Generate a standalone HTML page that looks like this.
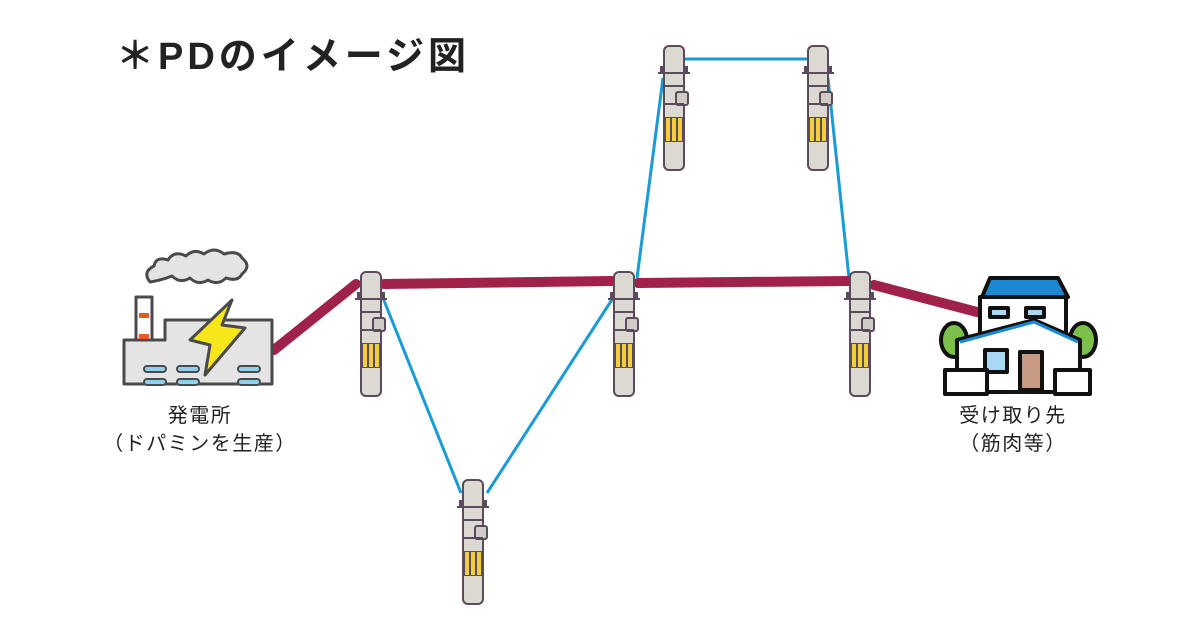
<!DOCTYPE html>
<html><head><meta charset="utf-8"><style>
html,body{margin:0;padding:0;background:#fff;}
body{width:1200px;height:630px;overflow:hidden;position:relative;font-family:"Liberation Sans","Noto Sans CJK JP",sans-serif;}
.t{position:absolute;color:#222;}
</style></head><body>
<svg width="1200" height="630" style="position:absolute;left:0;top:0">
<defs>
<g id="pole">
<rect x="0" y="0" width="20" height="124" rx="5" fill="#dcd8d2" stroke="#5a4a5c" stroke-width="2"/>
<line x1="-6" y1="27" x2="26" y2="27" stroke="#5a4a5c" stroke-width="2"/>
<rect x="-4" y="20" width="3" height="6" fill="#5a4a5c"/>
<rect x="21" y="20" width="3" height="6" fill="#5a4a5c"/>
<line x1="0" y1="40" x2="20" y2="40" stroke="#5a4a5c" stroke-width="2"/>
<rect x="12" y="46" width="12" height="13" rx="2" fill="#cfcbc5" stroke="#5a4a5c" stroke-width="2"/>
<line x1="0" y1="58" x2="20" y2="58" stroke="#5a4a5c" stroke-width="2"/>
<rect x="0" y="71" width="20" height="25" fill="#5a4a5c"/>
<rect x="2" y="72" width="4" height="23" fill="#f2cf3a"/>
<rect x="8" y="72" width="4" height="23" fill="#f2cf3a"/>
<rect x="14" y="72" width="4" height="23" fill="#f2cf3a"/>
</g>
</defs>
<g stroke="#1a9ad6" stroke-width="3" fill="none">
<line x1="383" y1="298" x2="461" y2="493"/>
<line x1="487" y1="493" x2="613" y2="298"/>
<line x1="637" y1="278" x2="663" y2="78"/>
<line x1="684" y1="59" x2="807" y2="59"/>
<line x1="828" y1="78" x2="849" y2="278"/>
</g>
<g stroke="#a0214a" stroke-width="10" stroke-linecap="round" fill="none">
<line x1="274" y1="350" x2="356" y2="284"/>
<line x1="384" y1="284" x2="612" y2="281"/>
<line x1="638" y1="283" x2="848" y2="281"/>
<line x1="874" y1="285" x2="977" y2="312"/>
</g>
<use href="#pole" x="361" y="272"/>
<use href="#pole" x="463" y="480"/>
<use href="#pole" x="614" y="272"/>
<use href="#pole" x="664" y="46"/>
<use href="#pole" x="808" y="46"/>
<use href="#pole" x="850" y="272"/>
<g stroke="#4a4a4a" stroke-width="3" stroke-linejoin="round">
<path d="M150 282 q-8 -10 4 -16 q2 -10 14 -6 q6 -10 18 -4 q8 -8 18 -2 q10 -8 20 0 q14 -4 18 4 q10 8 0 16 q-4 8 -16 4 q-8 8 -18 2 q-10 6 -18 -2 q-10 6 -18 -2 q-10 4 -22 6 z" fill="#e4e4e4"/>
<rect x="136" y="297" width="16" height="50" fill="#fff"/>
<path d="M124 350 V340 H165 V320 H272 V384 H124 Z" fill="#e4e4e4"/>
<path d="M232 300 L190 340 L210 345 L205 375 L245 328 L222 325 Z" fill="#f7e61a"/>
</g>
<rect x="139" y="313" width="10" height="5" fill="#e85a1a"/>
<rect x="139" y="334" width="10" height="5" fill="#e85a1a"/>
<g fill="#8fd0ee" stroke="#4a4a4a" stroke-width="2">
<rect x="144" y="366" width="22" height="6" rx="3"/><rect x="177" y="366" width="22" height="6" rx="3"/><rect x="238" y="366" width="22" height="6" rx="3"/>
<rect x="144" y="379" width="22" height="6" rx="3"/><rect x="177" y="379" width="22" height="6" rx="3"/><rect x="238" y="379" width="22" height="6" rx="3"/>
</g>
<g stroke="#111" stroke-width="4" stroke-linejoin="round">
<path d="M982 297 L990 278 H1058 L1068 297 Z" fill="#1a8ad6"/>
<rect x="980" y="297" width="86" height="40" fill="#fff"/>
<ellipse cx="954" cy="340" rx="13" ry="17" fill="#7cc04a"/>
<ellipse cx="1083" cy="340" rx="13" ry="17" fill="#7cc04a"/>
<path d="M957 340 L1034 320 L1080 340 V392 H957 Z" fill="#fff"/>
<rect x="985" y="350" width="22" height="22" fill="#a8d8f4"/>
<rect x="1020" y="352" width="22" height="38" fill="#c89a84"/>
<rect x="945" y="370" width="42" height="24" fill="#fff"/>
<rect x="1055" y="370" width="35" height="24" fill="#fff"/>
<rect x="990" y="308" width="18" height="9" fill="#a8d8f4"/>
<rect x="1026" y="308" width="18" height="9" fill="#a8d8f4"/>
</g>
<path d="M960 342 L1034 322 L1078 342" stroke="#1a8ad6" stroke-width="3" fill="none"/>
</svg>
<div class="t" style="left:116px;top:25px;font-size:38px;font-weight:bold;letter-spacing:4px;">＊PDのイメージ図</div>
<div class="t" style="left:80px;top:402px;width:240px;text-align:center;font-size:20px;letter-spacing:1.5px;line-height:28px;">発電所<br>（ドパミンを生産）</div>
<div class="t" style="left:893px;top:402px;width:240px;text-align:center;font-size:20px;letter-spacing:1.5px;line-height:28px;">受け取り先<br>（筋肉等）</div>
</body></html>
